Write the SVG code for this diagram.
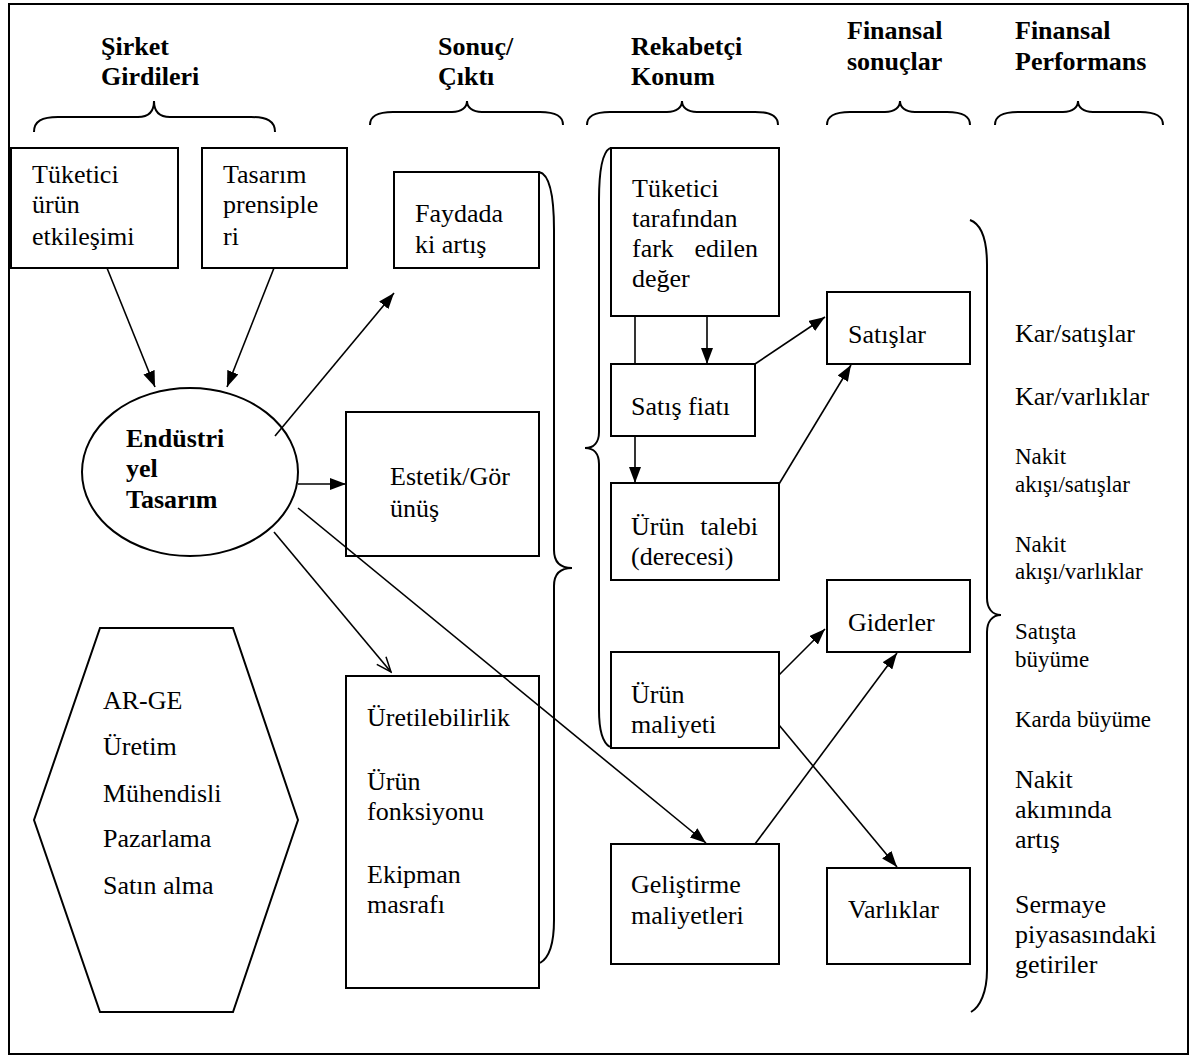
<svg xmlns="http://www.w3.org/2000/svg" width="1200" height="1062" viewBox="0 0 1200 1062" font-family="'Liberation Serif', 'DejaVu Serif', serif">
<defs>
<marker id="arr" markerUnits="userSpaceOnUse" markerWidth="16" markerHeight="12" refX="16" refY="6" orient="auto">
<path d="M0,0 L16,6 L0,12 z" fill="#000"/>
</marker>
<marker id="open" markerUnits="userSpaceOnUse" markerWidth="18" markerHeight="14" refX="16" refY="7" orient="auto">
<path d="M1,1 L16,7 L1,13" fill="none" stroke="#000" stroke-width="1.5"/>
</marker>
</defs>
<style>
text{font-size:26px;fill:#000}
.h{font-weight:bold}
.s{font-size:23px}
.box{fill:#fff;stroke:#000;stroke-width:2}
.br{fill:none;stroke:#000;stroke-width:2}
.ln{fill:none;stroke:#000;stroke-width:1.6}
</style>
<rect x="9" y="4" width="1179" height="1050" fill="#fff" stroke="#000" stroke-width="2"/>

<g id="headers">
<text class="h" x="101" y="55">Şirket</text>
<text class="h" x="101" y="85">Girdileri</text>
<text class="h" x="438" y="55">Sonuç/</text>
<text class="h" x="438" y="85">Çıktı</text>
<text class="h" x="631" y="55">Rekabetçi</text>
<text class="h" x="631" y="85">Konum</text>
<text class="h" x="847" y="39">Finansal</text>
<text class="h" x="847" y="70">sonuçlar</text>
<text class="h" x="1015" y="39">Finansal</text>
<text class="h" x="1015" y="70">Performans</text>
</g>

<g id="braces">
<path class="br" d="M34,132 C34,121 42,117 58,117 L138,117 C149,117 154,111 154,101 C154,111 159,117 170,117 L251,117 C267,117 275,121 275,132"/>
<path class="br" d="M370,125 C370,116 377,112 393,112 L452,112 C462,112 467,107 467,101 C467,107 472,112 482,112 L540,112 C556,112 563,116 563,125"/>
<path class="br" d="M587,125 C587,116 594,112 610,112 L667,112 C677,112 682,107 682,101 C682,107 687,112 697,112 L755,112 C771,112 778,116 778,125"/>
<path class="br" d="M827,125 C827,116 834,112 850,112 L885,112 C895,112 900,107 900,101 C900,107 905,112 915,112 L947,112 C963,112 970,116 970,125"/>
<path class="br" d="M995,125 C995,116 1002,112 1018,112 L1063,112 C1073,112 1078,107 1078,101 C1078,107 1083,112 1093,112 L1140,112 C1156,112 1163,116 1163,125"/>
<path class="br" d="M539,172 C549,174 554,195 554,230 L554,550 C554,562 560,568 572,568 C560,568 554,574 554,586 L554,920 C554,945 549,958 540,963"/>
<path class="br" d="M610,148 C603,152 599,170 599,200 L599,432 C599,442 594,448 585,448 C594,448 599,454 599,464 L599,710 C599,730 603,743 610,747"/>
<path class="br" d="M970,220 C981,224 987,240 987,265 L987,598 C987,608 992,615 1001,615 C992,615 987,622 987,632 L987,970 C987,992 980,1007 971,1012"/>
</g>

<g id="n-tuketici">
<rect class="box" x="11" y="148" width="167" height="120"/>
<text x="32" y="183">Tüketici</text>
<text x="32" y="213">ürün</text>
<text x="32" y="245">etkileşimi</text>
</g>
<g id="n-tasarim">
<rect class="box" x="202" y="148" width="145" height="120"/>
<text x="223" y="183">Tasarım</text>
<text x="223" y="213">prensiple</text>
<text x="223" y="245">ri</text>
</g>
<g id="n-endustri">
<ellipse cx="190" cy="472" rx="108" ry="84" class="box"/>
<text class="h" x="126" y="447">Endüstri</text>
<text class="h" x="126" y="477">yel</text>
<text class="h" x="126" y="508">Tasarım</text>
</g>
<g id="n-departmanlar">
<polygon class="box" points="100,628 233,628 298,820 233,1012 100,1012 34,820"/>
<text x="103" y="709">AR-GE</text>
<text x="103" y="755">Üretim</text>
<text x="103" y="802">Mühendisli</text>
<text x="103" y="847">Pazarlama</text>
<text x="103" y="894">Satın alma</text>
</g>
<g id="n-fayda">
<rect class="box" x="394" y="172" width="145" height="96"/>
<text x="415" y="222">Faydada</text>
<text x="415" y="253">ki artış</text>
</g>
<g id="n-estetik">
<rect class="box" x="346" y="412" width="193" height="144"/>
<text x="390" y="485">Estetik/Gör</text>
<text x="390" y="517">ünüş</text>
</g>
<g id="n-uretilebilirlik">
<rect class="box" x="346" y="676" width="193" height="312"/>
<text x="367" y="726">Üretilebilirlik</text>
<text x="367" y="790">Ürün</text>
<text x="367" y="820">fonksiyonu</text>
<text x="367" y="883">Ekipman</text>
<text x="367" y="913">masrafı</text>
</g>
<g id="n-deger">
<rect class="box" x="611" y="148" width="168" height="168"/>
<text x="632" y="197">Tüketici</text>
<text x="632" y="227">tarafından</text>
<text x="632" y="257">fark</text>
<text x="758" y="257" text-anchor="end">edilen</text>
<text x="632" y="287">değer</text>
</g>
<g id="n-fiyat">
<rect class="box" x="611" y="364" width="144" height="72"/>
<text x="631" y="415">Satış fiatı</text>
</g>
<g id="n-talep">
<rect class="box" x="611" y="483" width="168" height="97"/>
<text x="631" y="535">Ürün</text>
<text x="758" y="535" text-anchor="end">talebi</text>
<text x="631" y="565">(derecesi)</text>
</g>
<g id="n-urunmaliyeti">
<rect class="box" x="611" y="652" width="168" height="96"/>
<text x="631" y="703">Ürün</text>
<text x="631" y="733">maliyeti</text>
</g>
<g id="n-gelistirme">
<rect class="box" x="611" y="844" width="168" height="120"/>
<text x="631" y="893">Geliştirme</text>
<text x="631" y="924">maliyetleri</text>
</g>
<g id="n-satislar">
<rect class="box" x="827" y="292" width="143" height="72"/>
<text x="848" y="343">Satışlar</text>
</g>
<g id="n-giderler">
<rect class="box" x="827" y="580" width="143" height="72"/>
<text x="848" y="631">Giderler</text>
</g>
<g id="n-varliklar">
<rect class="box" x="827" y="868" width="143" height="96"/>
<text x="848" y="918">Varlıklar</text>
</g>
<g id="n-performans">
<text x="1015" y="342">Kar/satışlar</text>
<text x="1015" y="405">Kar/varlıklar</text>
<text class="s" x="1015" y="464">Nakit</text>
<text class="s" x="1015" y="492">akışı/satışlar</text>
<text class="s" x="1015" y="552">Nakit</text>
<text class="s" x="1015" y="579">akışı/varlıklar</text>
<text class="s" x="1015" y="639">Satışta</text>
<text class="s" x="1015" y="667">büyüme</text>
<text class="s" x="1015" y="727">Karda büyüme</text>
<text x="1015" y="788">Nakit</text>
<text x="1015" y="818">akımında</text>
<text x="1015" y="848">artış</text>
<text x="1015" y="913">Sermaye</text>
<text x="1015" y="943">piyasasındaki</text>
<text x="1015" y="973">getiriler</text>
</g>

<g id="connectors">
<line class="ln" x1="107" y1="268" x2="155" y2="387" marker-end="url(#arr)"/>
<line class="ln" x1="274" y1="268" x2="227" y2="387" marker-end="url(#arr)"/>
<line class="ln" x1="275" y1="436" x2="394" y2="293" marker-end="url(#arr)"/>
<line class="ln" x1="298" y1="484" x2="346" y2="484" marker-end="url(#arr)"/>
<line class="ln" x1="274" y1="532" x2="391" y2="672" marker-end="url(#open)"/>
<line class="ln" x1="298" y1="508" x2="706" y2="843" marker-end="url(#arr)"/>
<line class="ln" x1="635" y1="316" x2="635" y2="364"/>
<line class="ln" x1="707" y1="316" x2="707" y2="364" marker-end="url(#arr)"/>
<line class="ln" x1="635" y1="436" x2="635" y2="483" marker-end="url(#arr)"/>
<line class="ln" x1="755" y1="364" x2="825" y2="317" marker-end="url(#arr)"/>
<line class="ln" x1="779" y1="484" x2="851" y2="365" marker-end="url(#arr)"/>
<line class="ln" x1="779" y1="675" x2="825" y2="629" marker-end="url(#arr)"/>
<line class="ln" x1="779" y1="725" x2="897" y2="867" marker-end="url(#arr)"/>
<line class="ln" x1="755" y1="844" x2="897" y2="653" marker-end="url(#arr)"/>
</g>
</svg>
